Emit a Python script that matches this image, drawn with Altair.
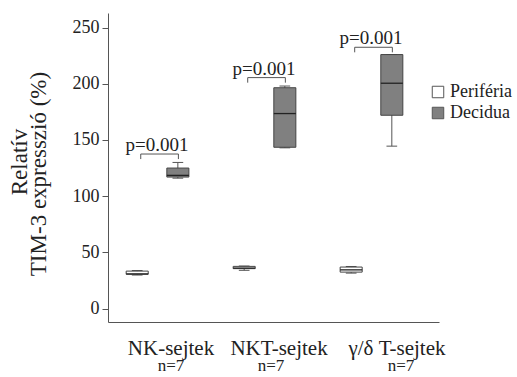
import altair as alt
import pandas as pd

# Cell populations (x categories) and sample sources (series)
categories = ["NK-sejtek", "NKT-sejtek", "γ/δ T-sejtek"]
groups = ["Periféria", "Decidua"]
n_labels = ["n=7", "n=7", "n=7"]
y_title = ["Relatív", "TIM-3 expresszió (%)"]

# Box statistics per population, in the order of `categories`
perif_low = [29.8, 34.0, 31.5]
perif_q1 = [30.5, 35.5, 32.4]
perif_med = [30.8, 36.0, 34.4]
perif_q3 = [33.3, 37.5, 36.9]
perif_high = [33.8, 37.8, 37.4]

dec_low = [116.0, 143.0, 144.5]
dec_q1 = [117.0, 143.5, 172.0]
dec_med = [118.5, 173.5, 200.5]
dec_q3 = [125.0, 196.5, 226.0]
dec_high = [130.0, 198.0, 226.0]

# Significance annotations
p_labels = ["p=0.001", "p=0.001", "p=0.001"]
bracket_y = [137.5, 205.5, 232.5]

# Layout constants (axis units: one unit per population group)
GROUP_SHIFT = 0.19
BOX_HALF = 0.103
CAP_HALF = 0.05
TICK_DROP = 4.5
label_x = [1.126, 2.136, 3.238]
n_x = [1.126, 2.061, 3.276]
X_DOMAIN = [0.537, 3.631]
Y_DOMAIN = [-12, 263]
SERIF = "Liberation Serif"

rows = []
for i, c in enumerate(categories):
    rows.append(dict(cat=c, idx=i + 1, group=groups[0], low=perif_low[i], q1=perif_q1[i],
                     med=perif_med[i], q3=perif_q3[i], high=perif_high[i]))
    rows.append(dict(cat=c, idx=i + 1, group=groups[1], low=dec_low[i], q1=dec_q1[i],
                     med=dec_med[i], q3=dec_q3[i], high=dec_high[i]))
boxes = pd.DataFrame(rows)

brackets = pd.DataFrame({"idx": [1, 2, 3], "p": p_labels, "by": bracket_y})
labels = pd.DataFrame({"cat": categories, "lx": label_x, "n": n_labels, "nx": n_x})

xs = alt.Scale(domain=X_DOMAIN, nice=False, zero=False)
ys = alt.Scale(domain=Y_DOMAIN, nice=False, zero=False)

base = alt.Chart(boxes).transform_calculate(
    xc=f"datum.idx + (datum.group == '{groups[0]}' ? {-GROUP_SHIFT} : {GROUP_SHIFT})"
).transform_calculate(
    xl=f"datum.xc - {BOX_HALF}", xr=f"datum.xc + {BOX_HALF}",
    cl=f"datum.xc - {CAP_HALF}", cr=f"datum.xc + {CAP_HALF}",
)

x_axis = alt.Axis(title=None, labels=False, ticks=False, grid=False,
                  domainColor="#555", domainWidth=1)
y_axis = alt.Axis(
    title=None,
    values=[0, 50, 100, 150, 200, 250], grid=False,
    tickSize=6, tickColor="#555", domainColor="#555",
    labelFont=SERIF, labelFontSize=18, labelColor="#222", labelPadding=3,
)

whisker = base.mark_rule(color="#555", strokeWidth=1).encode(
    x=alt.X("xc:Q", scale=xs, axis=x_axis),
    y=alt.Y("low:Q", scale=ys, axis=y_axis),
    y2="high:Q",
)

caps = base.transform_fold(["low", "high"], as_=["which", "val"]).mark_rule(
    color="#555", strokeWidth=1
).encode(x=alt.X("cl:Q", scale=xs), x2="cr:Q", y=alt.Y("val:Q", scale=ys))

box = base.mark_rect(stroke="#444", strokeWidth=1).encode(
    x=alt.X("xl:Q", scale=xs),
    x2="xr:Q",
    y=alt.Y("q1:Q", scale=ys),
    y2="q3:Q",
    fill=alt.Fill(
        "group:N",
        scale=alt.Scale(domain=groups, range=["#ffffff", "#808080"]),
        legend=alt.Legend(
            title=None, orient="none", legendX=321, legendY=70,
            symbolType="square", symbolSize=132, symbolStrokeColor="#555",
            symbolStrokeWidth=1, labelFont=SERIF, labelFontSize=18,
            labelColor="#222", labelOffset=3, rowPadding=3,
        ),
    ),
)

median = base.mark_rule(color="#222", strokeWidth=1.3).encode(
    x=alt.X("xl:Q", scale=xs), x2="xr:Q", y=alt.Y("med:Q", scale=ys)
)

bbase = alt.Chart(brackets).transform_calculate(
    ba=f"datum.idx - {GROUP_SHIFT} + 0.033",
    bb=f"datum.idx + {GROUP_SHIFT} + 0.005",
    bm=f"datum.idx - 0.005",
    bt=f"datum.by - {TICK_DROP}",
)
bar_h = bbase.mark_rule(color="#555", strokeWidth=1).encode(
    x=alt.X("ba:Q", scale=xs), x2="bb:Q", y=alt.Y("by:Q", scale=ys)
)
bar_l = bbase.mark_rule(color="#555", strokeWidth=1).encode(
    x=alt.X("ba:Q", scale=xs), y=alt.Y("bt:Q", scale=ys), y2="by:Q"
)
bar_r = bbase.mark_rule(color="#555", strokeWidth=1).encode(
    x=alt.X("bb:Q", scale=xs), y=alt.Y("bt:Q", scale=ys), y2="by:Q"
)
p_text = bbase.mark_text(font=SERIF, fontSize=19, color="#222",
                         baseline="alphabetic", dy=-3).encode(
    x=alt.X("bm:Q", scale=xs), y=alt.Y("by:Q", scale=ys), text="p:N"
)

cat_text = alt.Chart(labels).mark_text(font=SERIF, fontSize=21, color="#222",
                                       baseline="alphabetic").encode(
    x=alt.X("lx:Q", scale=xs), y=alt.value(342), text="cat:N"
)
n_text = alt.Chart(labels).mark_text(font=SERIF, fontSize=17, color="#222",
                                     baseline="alphabetic").encode(
    x=alt.X("nx:Q", scale=xs), y=alt.value(358), text="n:N"
)

# Two-line rotated y-axis title, drawn beside the tick labels
title_df = pd.DataFrame({"t": y_title})
title_l1 = alt.Chart(title_df).transform_filter(f"datum.t == '{y_title[0]}'").mark_text(
    font=SERIF, fontSize=23, color="#222", angle=270, align="center", baseline="middle"
).encode(x=alt.value(-88), y=alt.value(149), text="t:N")
title_l2 = alt.Chart(title_df).transform_filter(f"datum.t == '{y_title[1]}'").mark_text(
    font=SERIF, fontSize=23, color="#222", angle=270, align="center", baseline="middle"
).encode(x=alt.value(-69), y=alt.value(161), text="t:N")

chart = alt.layer(
    whisker, caps, box, median, bar_h, bar_l, bar_r, p_text, cat_text, n_text,
    title_l1, title_l2,
).properties(
    width=331, height=309,
    autosize=alt.AutoSizeParams(type="none"),
    padding={"left": 108, "top": 13, "right": 78, "bottom": 55},
    background="white",
).configure_view(stroke=None)

chart.save("out.html", embed_options={"renderer": "svg", "actions": False})
